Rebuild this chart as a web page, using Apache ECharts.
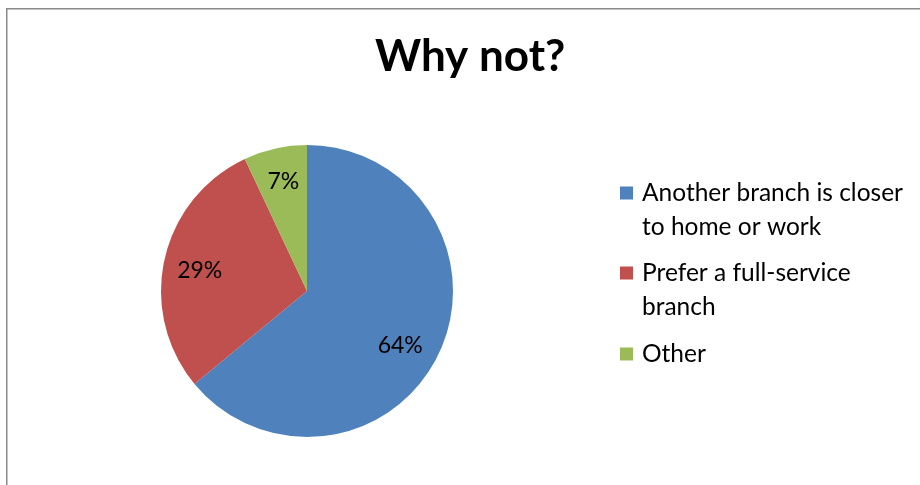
<!DOCTYPE html>
<html>
<head>
<meta charset="utf-8">
<script src="https://cdn.jsdelivr.net/npm/echarts@6/dist/echarts.min.js"></script>
<style>
html,body{margin:0;padding:0;background:#fff;}
#chart{width:920px;height:485px;}
</style>
</head>
<body>
<div id="chart"></div>
<script>
var titleText = 'Why not?';
var categories = ['Another branch is closer to home or work', 'Prefer a full-service branch', 'Other'];
var legendLabels = ['Another branch is closer\nto home or work', 'Prefer a full-service\nbranch', 'Other'];
var values = [64, 29, 7];
var colors = ['#4F81BD', '#C0504D', '#9BBB59'];

var FONT = 'Lato';
var chart = echarts.init(document.getElementById('chart'), null, {renderer: 'canvas'});

var labelOffsets = [[-9, 6], [3, 4], [1, 1]];

var pieData = categories.map(function (c, i) {
  return {name: c, value: values[i], itemStyle: {color: colors[i]}};
});
var labelData = categories.map(function (c, i) {
  return {name: c, value: values[i], label: {offset: labelOffsets[i]}};
});

var twoLineIcon = 'path://M0,0H13V13H0Z M17,47L17.01,47';
var oneLineIcon = 'path://M0,0H13V13H0Z M17,13L17.01,13';

function legendFor(i, top, twoLine) {
  return {
    show: true,
    orient: 'vertical',
    left: 620,
    top: top,
    padding: 0,
    itemWidth: 17,
    itemHeight: twoLine ? 47 : 13,
    selectedMode: false,
    data: [{name: categories[i], icon: twoLine ? twoLineIcon : oneLineIcon}],
    itemStyle: {borderWidth: 0},
    formatter: function (name) { return legendLabels[categories.indexOf(name)]; },
    textStyle: {fontFamily: FONT, fontSize: 24.5, color: '#000', lineHeight: 34}
  };
}

var option = {
  animation: false,
  backgroundColor: '#fff',
  title: {
    text: titleText,
    left: 375,
    top: 35,
    padding: 0,
    textStyle: {fontFamily: FONT, fontSize: 44, fontWeight: 'bold', color: '#000'}
  },
  legend: [
    legendFor(0, 176, true),
    legendFor(1, 256, true),
    legendFor(2, 337, false)
  ],
  graphic: [{
    type: 'rect',
    shape: {x: 6.75, y: 8.75, width: 2000, height: 2000},
    style: {fill: 'none', stroke: '#898989', lineWidth: 1.5},
    silent: true
  }],
  series: [{
    type: 'pie',
    center: [307, 291],
    radius: [0, 146],
    startAngle: 90,
    clockwise: true,
    label: {show: false},
    labelLine: {show: false},
    itemStyle: {borderWidth: 0},
    emphasis: {disabled: true},
    data: pieData
  }, {
    type: 'pie',
    center: [307, 291],
    radius: [74, 146],
    startAngle: 90,
    clockwise: true,
    silent: true,
    itemStyle: {color: 'rgba(0,0,0,0)', borderWidth: 0},
    label: {
      show: true,
      position: 'inside',
      formatter: '{c}%',
      fontFamily: FONT,
      fontSize: 23,
      color: '#000'
    },
    labelLine: {show: false},
    emphasis: {disabled: true},
    data: labelData
  }]
};
chart.setOption(option);
</script>
</body>
</html>
